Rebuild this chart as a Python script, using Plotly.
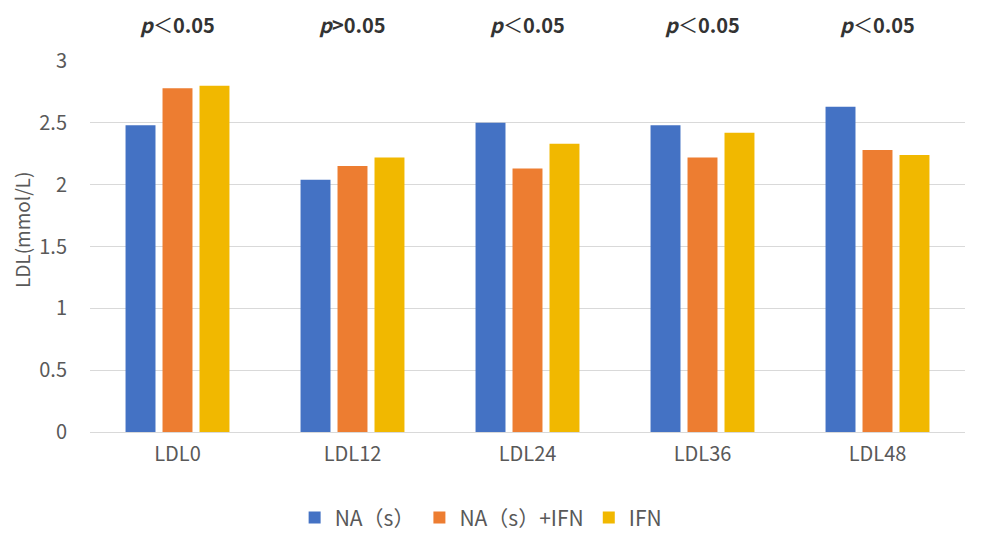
import plotly.graph_objects as go

categories = ["LDL0", "LDL12", "LDL24", "LDL36", "LDL48"]
series_names = ["NA（s）", "NA（s）+IFN", "IFN"]
na_s = [2.48, 2.04, 2.50, 2.48, 2.63]
na_s_ifn = [2.78, 2.15, 2.13, 2.22, 2.28]
ifn = [2.80, 2.22, 2.33, 2.42, 2.24]
p_labels = ["<b><i>p</i></b>＜<b>0.05</b>", "<b><i>p</i>>0.05</b>", "<b><i>p</i></b>＜<b>0.05</b>",
            "<b><i>p</i></b>＜<b>0.05</b>", "<b><i>p</i></b>＜<b>0.05</b>"]
y_ticks = [0, 0.5, 1, 1.5, 2, 2.5, 3]
y_tick_text = ["0", "0.5", "1", "1.5", "2", "2.5", "3"]
y_title = "LDL(mmol/L)"
colors = ["#4472C4", "#ED7D31", "#F1B800"]

FONT = "Noto Sans CJK SC, Open Sans, sans-serif"

fig = go.Figure()
for name, vals, c in zip(series_names, [na_s, na_s_ifn, ifn], colors):
    fig.add_trace(go.Bar(x=categories, y=vals, name=name, marker=dict(color=c, line=dict(width=0))))

for cat, lab in zip(categories, p_labels):
    fig.add_annotation(x=cat, y=1.0997, xref="x", yref="paper", text=lab, showarrow=False,
                       font=dict(size=20, color="#333333", family=FONT), yanchor="middle")

fig.add_annotation(x=-0.079, y=0.544, xref="paper", yref="paper", text=y_title,
                   textangle=-90, showarrow=False, xanchor="center", yanchor="middle",
                   font=dict(size=19, color="#595959", family=FONT))

fig.update_layout(
    width=973, height=534,
    margin=dict(l=82, r=16, t=53, b=110, autoexpand=False),
    paper_bgcolor="white", plot_bgcolor="white",
    barmode="group", bargap=0.366, bargroupgap=0.19,
    font=dict(family=FONT, color="#595959", size=20),
    showlegend=True,
    legend=dict(orientation="h", x=0.447, xanchor="center", y=0.045, yref="container",
                yanchor="middle",
                font=dict(size=21, color="#595959", family=FONT), itemwidth=30,
                traceorder="normal"),
    xaxis=dict(showgrid=False, showline=True, linecolor="#d9d9d9", linewidth=1,
               tickfont=dict(size=20, color="#595959"), ticks="outside", ticklen=4,
               tickcolor="white"),
    yaxis=dict(range=[0, 3], tickvals=y_ticks, ticktext=y_tick_text, showgrid=True,
               gridcolor="#d9d9d9", gridwidth=1, zeroline=False, showline=False,
               tickfont=dict(size=20, color="#595959"), ticks="outside", ticklen=18,
               tickcolor="white"),
)

fig.write_html("out.html")
